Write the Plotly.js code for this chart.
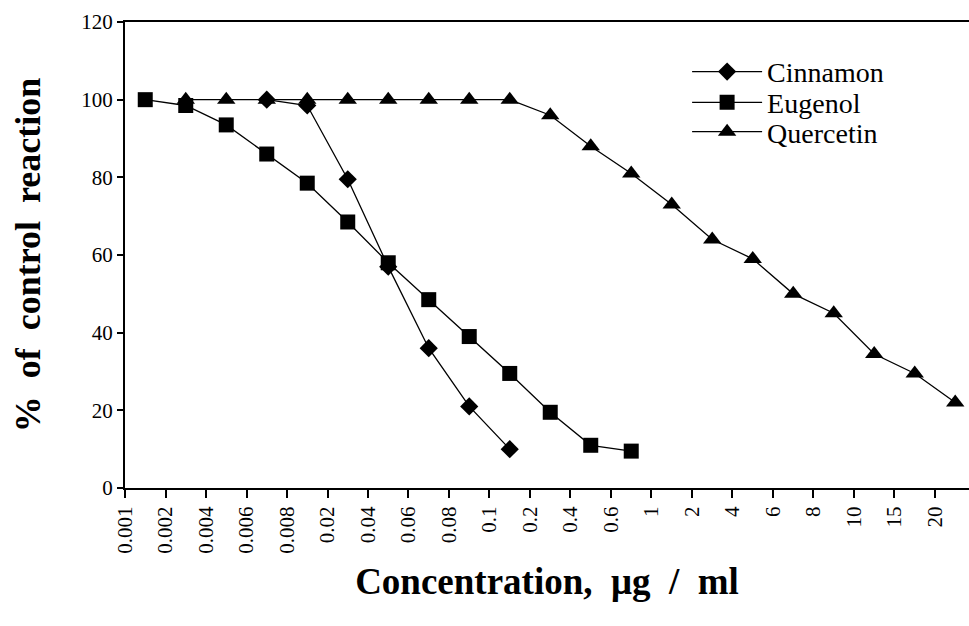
<!DOCTYPE html>
<html>
<head>
<meta charset="utf-8">
<script src="https://cdn.plot.ly/plotly-3.0.1.min.js"></script>
<style>html,body{margin:0;padding:0;background:#fff;}#chart{width:969px;height:626px;}</style>
</head>
<body>
<div id="chart"></div>
<script>
// Concentration tick labels (µg/ml), in axis order
var tickLabels = ['0.001','0.002','0.004','0.006','0.008','0.02','0.04','0.06','0.08','0.1','0.2','0.4','0.6','1','2','4','6','8','10','15','20'];

// % of control reaction, one value per concentration step
var cinnamonStart = 3;
var cinnamon  = [100, 98.5, 79.5, 57, 36, 21, 10];
var eugenolStart = 0;
var eugenol   = [100, 98.5, 93.5, 86, 78.5, 68.5, 58, 48.5, 39, 29.5, 19.5, 11, 9.5];
var quercetinStart = 1;
var quercetin = [100, 100, 100, 100, 100, 100, 100, 100, 100, 96, 88, 81, 73, 64, 59, 50, 45, 34.5, 29.5, 22];

// points are drawn midway between tick marks, as in the original chart
var midOffset = 0.5;
function steps(arr, start){ return arr.map(function(_, i){ return start + i + midOffset; }); }
var tickPos = tickLabels.map(function(_, i){ return i; });

var serif = 'Liberation Serif';
var lineStyle = {color: '#000', width: 1.3};

var traces = [
  {name: 'Cinnamon', legend: 'legend', x: steps(cinnamon, cinnamonStart), y: cinnamon, mode: 'lines+markers', type: 'scatter',
   line: lineStyle, marker: {symbol: 'diamond', size: 14, color: '#000'}},
  {name: 'Eugenol', legend: 'legend2', x: steps(eugenol, eugenolStart), y: eugenol, mode: 'lines+markers', type: 'scatter',
   line: lineStyle, marker: {symbol: 'square', size: 15, color: '#000'}},
  {name: 'Quercetin', legend: 'legend3', x: steps(quercetin, quercetinStart), y: quercetin, mode: 'lines+markers', type: 'scatter',
   line: lineStyle, marker: {symbol: 'triangle-up', size: 16, color: '#000'}}
];

function legendRow(yPaper){
  return {x: 0.666, y: yPaper, xanchor: 'left', yanchor: 'middle', bgcolor: 'rgba(0,0,0,0)',
          font: {family: serif, size: 28, color: '#000'}, itemwidth: 70, tracegroupgap: 0};
}

var layout = {
  width: 969, height: 626,
  margin: {l: 125, r: 0, t: 22, b: 138},
  paper_bgcolor: '#fff', plot_bgcolor: '#fff',
  font: {family: serif, color: '#000', size: 21},
  showlegend: true,
  legend: legendRow(0.893),
  legend2: legendRow(0.827),
  legend3: legendRow(0.764),
  xaxis: {
    range: [0, 20.84], tickmode: 'array', tickvals: tickPos, ticktext: tickLabels,
    tickangle: -90, ticks: 'outside', ticklen: 8, tickwidth: 2, tickcolor: '#000',
    showline: true, linecolor: '#000', linewidth: 2, mirror: true, showgrid: false, zeroline: false,
    tickfont: {family: serif, size: 21, color: '#000'},
    title: {text: 'Concentration,  μg  /  ml', font: {family: serif, size: 37, color: '#000', weight: 'bold'}, standoff: 15}
  },
  yaxis: {
    range: [0, 120], dtick: 20, ticks: 'outside', ticklen: 6, tickwidth: 2, tickcolor: '#000',
    showline: true, linecolor: '#000', linewidth: 2, showgrid: false, zeroline: false,
    tickfont: {family: serif, size: 21, color: '#000'},
    title: {text: '%  of  control  reaction', font: {family: serif, size: 36, color: '#000', weight: 'bold'}, standoff: 30}
  }
};

Plotly.newPlot('chart', traces, layout, {displayModeBar: false, staticPlot: true});
</script>
</body>
</html>
